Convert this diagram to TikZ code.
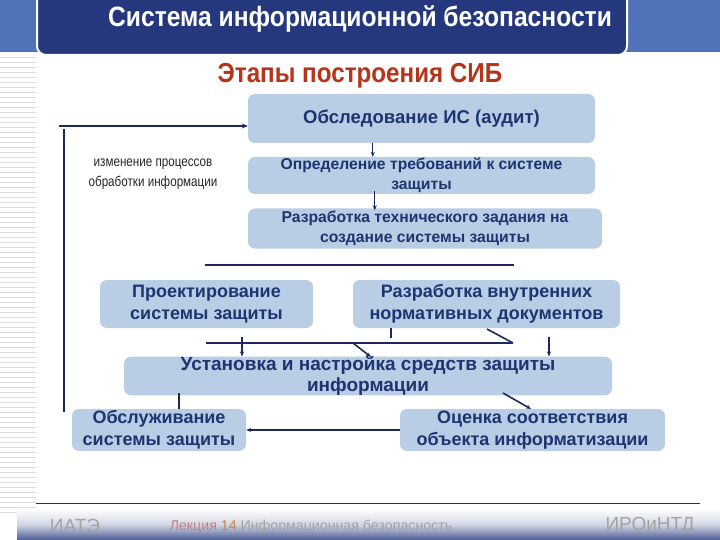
\documentclass[tikz,border=0pt]{standalone}
\usepackage{fontspec}
\setmainfont{Liberation Sans}
\newfontfamily\narrowfont[FakeStretch=0.88]{Liberation Sans}
\newfontfamily\notefont[FakeStretch=0.82]{Liberation Sans}
\usetikzlibrary{arrows.meta}
\definecolor{bandblue}{HTML}{4F74BA}
\definecolor{titlenavy}{HTML}{25377D}
\definecolor{subred}{HTML}{B5341A}
\definecolor{boxblue}{HTML}{B9CDE5}
\definecolor{textnavy}{HTML}{1F3470}
\definecolor{linenavy}{HTML}{1B2A5A}
\definecolor{stripegray}{HTML}{DCDCDC}
\definecolor{footblue}{HTML}{4A5C94}
\definecolor{footgray}{HTML}{8C8C8C}
\begin{document}
\begin{tikzpicture}[x=1pt,y=-1pt,
  stage/.style={fill=boxblue, rounded corners=7pt, inner sep=0pt, align=center,
    text=textnavy, font=\fontsize{15.7}{20}\selectfont\bfseries},
  bigstage/.style={stage, font=\fontsize{18}{22}\selectfont\bfseries},
  conn/.style={draw=linenavy, line width=1.8pt},
  arr/.style={conn, -{Stealth[length=6pt,width=5pt]}},
  thin/.style={draw=linenavy, line width=1.2pt, -{Stealth[length=5pt,width=4pt]}},
  stripe/.style={draw=stripegray, line width=0.8pt}]
\useasboundingbox (0,0) rectangle (720,540);
\fill[white] (0,0) rectangle (720,540);
% left stripes
\foreach \y in {57,62,...,512} \draw[stripe] (0,\y) -- (36,\y);
% top band
\fill[bandblue] (0,0) rectangle (720,52);
\fill[titlenavy, draw=white, line width=2pt, rounded corners=9pt] (37,-14) rectangle (627,55);
\node[text=white, font=\narrowfont\fontsize{28}{32}\selectfont\bfseries] (title) at (360,19) {Система информационной безопасности};
\node[text=subred, font=\narrowfont\fontsize{27.5}{30}\selectfont\bfseries] (sub) at (360,76) {Этапы построения СИБ};
% boxes
\node[stage, font=\fontsize{18.5}{22}\selectfont\bfseries, minimum width=347pt, minimum height=49pt] (b1) at (421.5,118.5) {Обследование ИС (аудит)};
\node[stage, minimum width=347pt, minimum height=37pt] (b2) at (421.5,175.5) {Определение требований к системе\\защиты};
\node[stage, minimum width=354pt, minimum height=40pt] (b3) at (425,228.5) {Разработка технического задания на\\создание системы защиты};
\node[bigstage, minimum width=213pt, minimum height=48pt] (b4) at (206.5,304) {Проектирование\\системы защиты};
\node[bigstage, minimum width=267pt, minimum height=48pt] (b5) at (486.5,304) {Разработка внутренних\\нормативных документов};
\node[bigstage, font=\fontsize{19}{20.5}\selectfont\bfseries, minimum width=488pt, minimum height=36pt] (b6) at (368,376) {Установка и настройка средств защиты\\информации};
\node[bigstage, minimum width=174pt, minimum height=42pt] (b7) at (159,430) {Обслуживание\\системы защиты};
\node[bigstage, minimum width=265pt, minimum height=42pt] (b8) at (532.5,430) {Оценка соответствия\\объекта информатизации};
% side note
\node[text=black!85, font=\notefont\fontsize{14.2}{20}\selectfont, align=center] (note) at (153,174) {изменение процессов\\обработки информации};
% loop on the left
\coordinate (lt) at (59,126);
\coordinate (lv1) at (64,129);
\coordinate (lv2) at (64,412);
\draw[arr] (lt) -- (lt -| b1.west);
\draw[conn] (lv1) -- (lv2);
% top chain arrows
\draw[thin] ([xshift=125pt]b1.south west) -- ([xshift=125pt]b2.north west);
\draw[thin] ([xshift=127pt,yshift=3pt]b2.south west) -- ([xshift=127pt,yshift=-2pt]b3.north west);
% horizontal lines
\coordinate (h1a) at (205,265);
\coordinate (h1b) at (514,265);
\draw[conn] (h1a) -- (h1b);
\coordinate (h2a) at (206,343);
\coordinate (h2b) at (513,343);
\draw[conn] (h2a) -- (h2b);
% arrows into installation box
\coordinate (a1) at (242,337);
\draw[thin] (a1) -- (a1 |- b6.north);
\coordinate (t1) at (391,338);
\draw[conn, line width=1.4pt] (t1 |- b5.south) -- (t1);
\coordinate (d1) at (353,343);
\draw[thin, line width=1.6pt] (d1) -- (371,357);
\coordinate (d2) at (513,343);
\draw[conn, line width=1.6pt] (487,329) -- (d2);
\coordinate (a2) at (549,337);
\draw[thin] (a2) -- (a2 |- b6.north);
% lower connectors
\coordinate (d3) at (503,393);
\draw[thin, line width=1.6pt] (d3) -- (531,409);
\coordinate (v1) at (179,393);
\draw[conn, line width=1.4pt] (v1) -- (v1 |- b7.north);
\draw[thin, line width=1.6pt] (b8.west) -- (b7.east);
% footer
\coordinate (fl1) at (36,503);
\coordinate (fl2) at (700,503);
\draw[black!80, line width=0.8pt] (fl1) -- (fl2);
\shade[top color=white, bottom color=footblue, middle color=white!75!footblue] (17,509) rectangle (720,540);
\node[text=footgray!80, font=\fontsize{19}{22}\selectfont] (f1) at (75,526) {ИАТЭ};
\node[font=\fontsize{14.2}{16}\selectfont] (f2) at (311,527) {\textcolor{red!30!footgray!80}{Лекция}\ \textcolor{orange!55!footgray}{14} \textcolor{footgray!80}{Информационная безопасность}};
\node[text=footgray!80, font=\fontsize{19}{22}\selectfont] (f3) at (650,526) {ИРОиНТД};
\end{tikzpicture}
\end{document}
